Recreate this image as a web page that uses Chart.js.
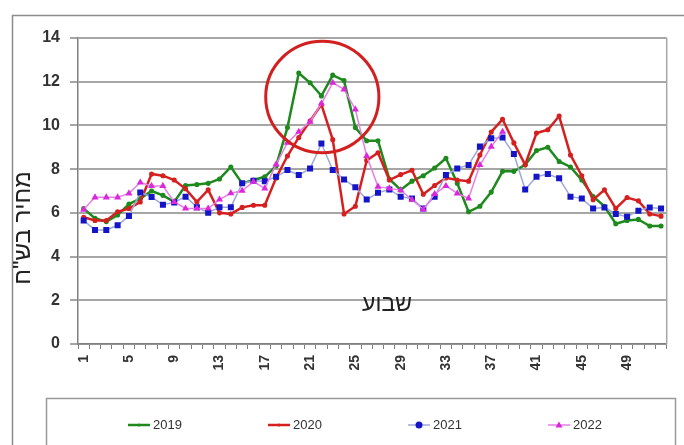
<!DOCTYPE html>
<html>
<head>
<meta charset="utf-8">
<script src="https://cdn.jsdelivr.net/npm/chart.js@4.4.1/dist/chart.umd.min.js"></script>
<style>
html,body{margin:0;padding:0;background:#fff;}
#wrap{width:684px;height:445px;position:relative;overflow:hidden;}
</style>
</head>
<body>
<div id="wrap"><canvas id="c" width="684" height="445"></canvas></div>
<script>
const weeks = Array.from({length:52},(_,i)=>String(i+1));
const seriesNames = ['2019','2020','2021','2022'];
const y2019 = [6.2,5.75,5.6,5.9,6.4,6.65,7.0,6.8,6.5,7.25,7.3,7.35,7.55,8.1,7.35,7.5,7.65,8.15,9.9,12.4,11.95,11.35,12.3,12.05,9.9,9.3,9.3,7.55,7.05,7.45,7.7,8.05,8.5,7.35,6.05,6.3,6.95,7.9,7.9,8.2,8.85,9.0,8.35,8.1,7.5,6.75,6.3,5.5,5.65,5.7,5.4,5.4];
const y2020 = [5.8,5.65,5.65,6.05,6.2,6.5,7.78,7.7,7.5,7.1,6.5,7.05,6.0,5.95,6.25,6.35,6.35,7.6,8.6,9.45,10.2,10.95,9.35,5.95,6.3,8.4,8.75,7.5,7.75,7.95,6.85,7.25,7.6,7.5,7.45,8.65,9.7,10.28,9.2,8.2,9.65,9.8,10.43,8.65,7.7,6.6,7.05,6.2,6.7,6.55,5.95,5.85];
const y2021 = [5.65,5.22,5.22,5.43,5.86,6.93,6.73,6.37,6.48,6.74,6.26,6.01,6.26,6.26,7.35,7.47,7.45,7.65,7.96,7.73,8.03,9.17,7.96,7.53,7.17,6.61,6.92,7.07,6.74,6.66,6.2,6.74,7.73,8.03,8.19,9.03,9.41,9.45,8.69,7.07,7.65,7.78,7.58,6.74,6.66,6.2,6.25,5.95,5.82,6.1,6.25,6.2];
const y2022 = [6.15,6.71,6.71,6.71,6.89,7.39,7.23,7.23,6.5,6.2,6.2,6.2,6.61,6.9,7.01,7.43,7.12,8.22,9.21,9.71,10.17,11.0,11.95,11.65,10.73,8.6,7.2,7.12,7.04,6.6,6.16,6.86,7.23,6.89,6.66,8.19,9.03,9.71,null,null,null,null,null,null,null,null,null,null,null,null,null,null];
const yMin = 0, yMax = 14, yStep = 2;
const yTitle = 'מחיר בש"ח';
const xTitle = 'שבוע';

const FONT = 'Arial, "Liberation Sans", "DejaVu Sans", sans-serif';

const decor = {
  id:'decor',
  beforeDraw(chart){
    const ctx = chart.ctx;
    ctx.save();
    ctx.strokeStyle = '#8c8c8c';
    ctx.lineWidth = 1.5;
    ctx.strokeRect(12.5, 15.5, 720, 500);
    ctx.restore();
  },
  afterDatasetsDraw(chart){
    const ctx = chart.ctx, a = chart.chartArea;
    const xs = chart.scales.x, ys = chart.scales.y;
    ctx.save();
    ctx.strokeStyle = '#a6a6a6';
    ctx.lineWidth = 1.5;
    ctx.beginPath();
    ctx.moveTo(a.right, a.top); ctx.lineTo(a.right, a.bottom);
    ctx.stroke();
    const ci = 21.08, cv = 11.3;
    const cx = xs.getPixelForValue(ci), cy = ys.getPixelForValue(cv);
    const rx = Math.abs(xs.getPixelForValue(ci+5) - cx);
    const ry = Math.abs(ys.getPixelForValue(cv-2.55) - cy);
    ctx.strokeStyle = '#d21f1f';
    ctx.lineWidth = 3;
    ctx.beginPath();
    ctx.ellipse(cx, cy, rx, ry, 0, 0, Math.PI*2);
    ctx.stroke();
    ctx.fillStyle = '#222';
    ctx.font = '23px ' + FONT;
    ctx.textAlign = 'center';
    ctx.textBaseline = 'middle';
    ctx.fillText(xTitle, xs.getPixelForValue(26.8), ys.getPixelForValue(1.78));
    ctx.restore();
  },
  afterDraw(chart){
    const ctx = chart.ctx;
    ctx.save();
    // y-axis title
    ctx.save();
    ctx.translate(23, 228);
    ctx.rotate(-Math.PI/2);
    ctx.fillStyle = '#222';
    ctx.font = '24px ' + FONT;
    ctx.textAlign = 'center';
    ctx.textBaseline = 'middle';
    ctx.fillText(yTitle, 0, 0);
    ctx.restore();
    // legend
    ctx.strokeStyle = '#999';
    ctx.lineWidth = 1.5;
    ctx.strokeRect(46.5, 398.5, 629, 80);
    const yc = 425;
    chart.data.datasets.forEach((ds, i) => {
      const x0 = 128 + i*140;
      ctx.strokeStyle = ds.borderColor;
      ctx.lineWidth = ds.borderWidth;
      ctx.beginPath();
      ctx.moveTo(x0, yc); ctx.lineTo(x0+22, yc);
      ctx.stroke();
      ctx.fillStyle = ds.pointBackgroundColor;
      const mx = x0 + 11;
      if (ds.pointStyle === 'rect') {
        ctx.beginPath(); ctx.arc(mx, yc, 3.5, 0, Math.PI*2); ctx.fill();
      } else if (ds.pointStyle === 'triangle') {
        ctx.beginPath();
        ctx.moveTo(mx, yc-3.5); ctx.lineTo(mx+3.5, yc+2.5); ctx.lineTo(mx-3.5, yc+2.5);
        ctx.closePath(); ctx.fill();
      } else {
        ctx.beginPath(); ctx.arc(mx, yc, 1.5, 0, Math.PI*2); ctx.fill();
      }
      ctx.fillStyle = '#333';
      ctx.font = '13px ' + FONT;
      ctx.textAlign = 'left';
      ctx.textBaseline = 'middle';
      ctx.fillText(ds.label, x0 + 25, yc);
    });
    ctx.restore();
  }
};

new Chart(document.getElementById('c'), {
  type:'line',
  data:{
    labels: weeks,
    datasets:[
      {label:seriesNames[0], data:y2019, borderColor:'#1e8a1e', backgroundColor:'#1e8a1e', pointBackgroundColor:'#1e8a1e', pointBorderColor:'#1e8a1e', borderWidth:2.5, pointRadius:1.3, pointStyle:'circle', order:4},
      {label:seriesNames[1], data:y2020, borderColor:'#d62020', backgroundColor:'#d62020', pointBackgroundColor:'#d62020', pointBorderColor:'#d62020', borderWidth:2.5, pointRadius:1.3, pointStyle:'circle', order:3},
      {label:seriesNames[2], data:y2021, borderColor:'#9ea8d8', backgroundColor:'#1414c8', pointBackgroundColor:'#1414c8', pointBorderColor:'#1414c8', borderWidth:1.5, pointRadius:3.2, pointStyle:'rect', order:2},
      {label:seriesNames[3], data:y2022, borderColor:'#e67ee6', backgroundColor:'#dc28dc', pointBackgroundColor:'#dc28dc', pointBorderColor:'#dc28dc', borderWidth:1.5, pointRadius:2.6, pointStyle:'triangle', order:1}
    ]
  },
  options:{
    responsive:false,
    animation:false,
    spanGaps:false,
    layout:{padding:{left:10, top:38, right:16, bottom:0}},
    plugins:{legend:{display:false}, tooltip:{enabled:false}},
    elements:{line:{tension:0}},
    scales:{
      x:{
        offset:true,
        grid:{drawOnChartArea:false, drawTicks:true, tickLength:5, color:'#808080', lineWidth:1, offset:true},
        border:{display:true, color:'#808080', width:1.5},
        ticks:{
          autoSkip:false, maxRotation:90, minRotation:90, padding:6,
          color:'#333', font:{family:FONT, size:14, weight:'bold'},
          callback:function(v, i){ return (i % 4 === 0 && i < 49) ? weeks[i] : ''; }
        },
        afterFit:function(s){ s.height = 101; }
      },
      y:{
        min:yMin, max:yMax,
        grid:{color:'#a6a6a6', lineWidth:2, tickLength:8, drawTicks:true},
        border:{display:true, color:'#808080', width:1.5},
        ticks:{stepSize:yStep, padding:10, color:'#333', font:{family:FONT, size:16, weight:'bold'}},
        title:{display:false},
        afterFit:function(s){ s.width = 68; }
      }
    }
  },
  plugins:[decor]
});
</script>
</body>
</html>
